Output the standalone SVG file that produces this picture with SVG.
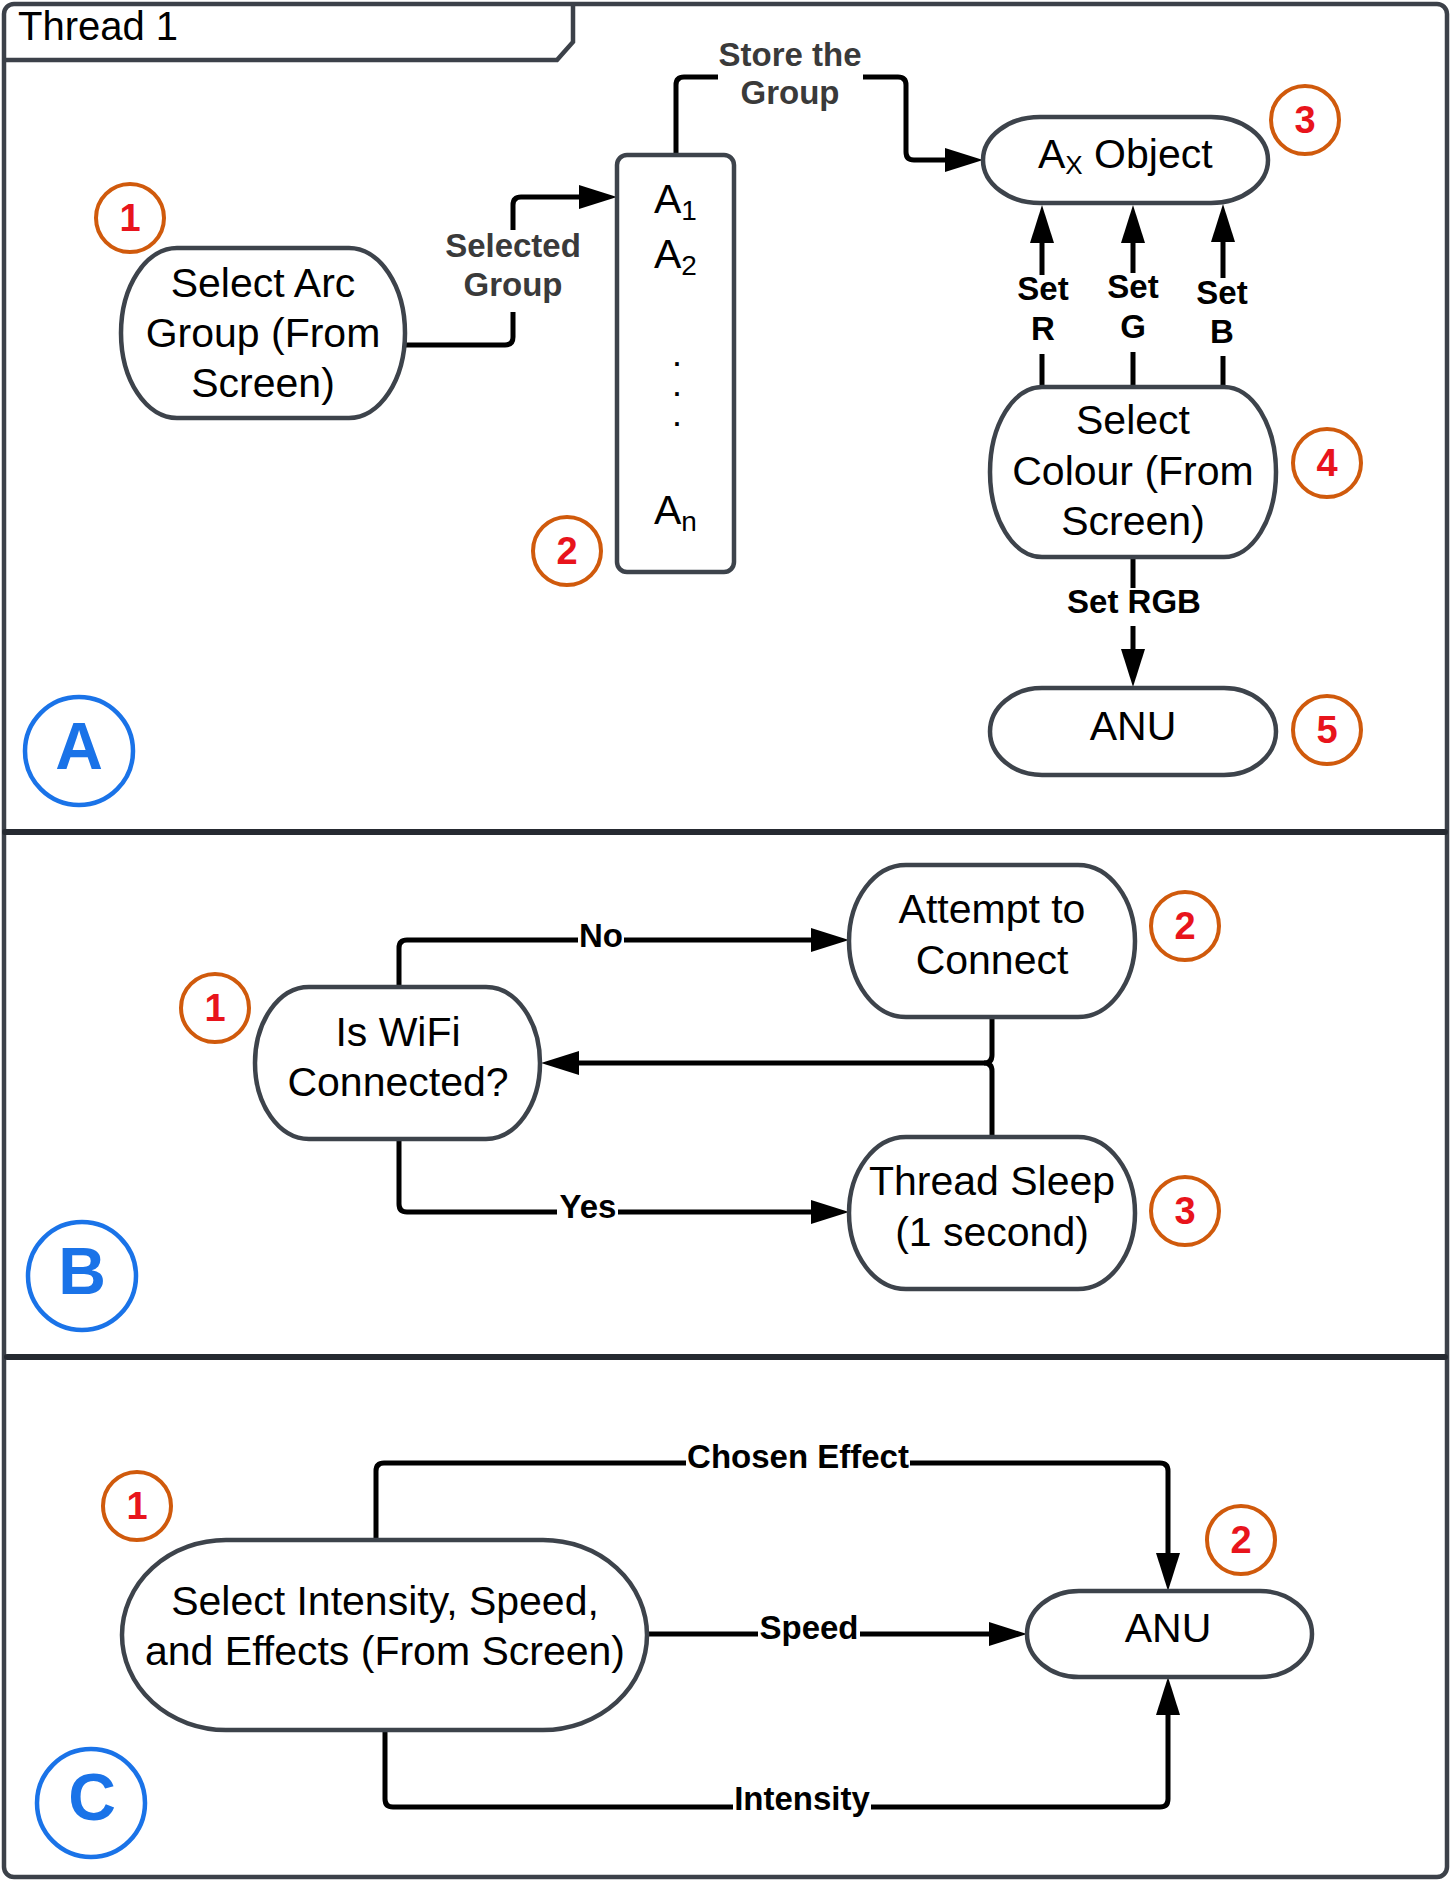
<svg xmlns="http://www.w3.org/2000/svg" width="1451" height="1881" viewBox="0 0 1451 1881">
<style>
text { font-family: "Liberation Sans", Arial, sans-serif; }
.node { fill: #ffffff; stroke: #3d434b; stroke-width: 4.5; }
.nt { font-size: 41px; fill: #000; text-anchor: middle; }
.nts { font-size: 41px; fill: #000; text-anchor: start; }
.dot { font-size: 25px; font-weight: bold; fill: #000; text-anchor: middle; }
.sub { font-size: 28px; }
.lbl { font-size: 33px; font-weight: bold; fill: #000; text-anchor: middle; }
.lblg { fill: #3a3a3a; }
.conn { fill: none; stroke: #000; stroke-width: 5; stroke-linejoin: round; }
.badge circle { fill: none; stroke: #d05a0c; stroke-width: 4; }
.badge text { font-size: 38px; font-weight: bold; fill: #e8141c; text-anchor: middle; }
.sec circle { fill: none; stroke: #1a73e8; stroke-width: 4.5; }
.sec text { font-size: 66px; font-weight: bold; fill: #1a73e8; text-anchor: middle; }
.frame { fill: none; stroke: #3c4149; stroke-width: 4.5; }
.divider { stroke: #262a31; stroke-width: 6; stroke-linecap: round; }
</style>
<defs>
<marker id="arrow" markerUnits="userSpaceOnUse" markerWidth="38" markerHeight="26" viewBox="0 0 38 26" refX="8" refY="13" orient="auto">
<path d="M0,1 L38,13 L0,25 Z" fill="#000"/>
</marker>
</defs>
<rect width="1451" height="1881" fill="#ffffff"/>

<g id="frame">
<rect class="frame" x="4" y="4" width="1443" height="1873" rx="10" ry="10"/>
<path class="frame" d="M4,60 H557 L573,42 V4"/>
<text x="18" y="40" font-size="40" fill="#000">Thread 1</text>
<line class="divider" x1="5" y1="832" x2="1445" y2="832"/>
<line class="divider" x1="7" y1="1357" x2="1445" y2="1357"/>
</g>

<g id="connectors">
<!-- Section A -->
<path class="conn" d="M405,345 H505 Q513,345 513,337 V312"/>
<path class="conn" d="M513,230 V205 Q513,197 521,197 H587" marker-end="url(#arrow)"/>
<text class="lbl lblg" x="513" y="257">Selected</text>
<text class="lbl lblg" x="513" y="296">Group</text>

<path class="conn" d="M676,155 V85 Q676,77 684,77 H718"/>
<path class="conn" d="M863,77 H898 Q906,77 906,85 V152 Q906,160 914,160 H953" marker-end="url(#arrow)"/>
<text class="lbl lblg" x="790" y="66">Store the</text>
<text class="lbl lblg" x="790" y="104">Group</text>

<path class="conn" d="M1042,387 V354"/>
<path class="conn" d="M1042,275 V235" marker-end="url(#arrow)"/>
<text class="lbl" x="1043" y="300">Set</text>
<text class="lbl" x="1043" y="340">R</text>

<path class="conn" d="M1133,387 V352"/>
<path class="conn" d="M1133,273 V235" marker-end="url(#arrow)"/>
<text class="lbl" x="1133" y="298">Set</text>
<text class="lbl" x="1133" y="338">G</text>

<path class="conn" d="M1223,387 V356"/>
<path class="conn" d="M1223,278 V234" marker-end="url(#arrow)"/>
<text class="lbl" x="1222" y="304">Set</text>
<text class="lbl" x="1222" y="343">B</text>

<path class="conn" d="M1133,557 V588"/>
<path class="conn" d="M1133,626 V657" marker-end="url(#arrow)"/>
<text class="lbl" x="1134" y="613">Set RGB</text>

<!-- Section B -->
<path class="conn" d="M399,986 V948 Q399,940 407,940 H578"/>
<path class="conn" d="M624,940 H819" marker-end="url(#arrow)"/>
<text class="lbl" x="601" y="947">No</text>

<path class="conn" d="M399,1140 V1204 Q399,1212 407,1212 H557"/>
<path class="conn" d="M618,1212 H819" marker-end="url(#arrow)"/>
<text class="lbl" x="588" y="1218">Yes</text>

<path class="conn" d="M992,1017 V1055 Q992,1063 984,1063 H571" marker-end="url(#arrow)"/>
<path class="conn" d="M992,1137 V1071 Q992,1063 984,1063"/>

<!-- Section C -->
<path class="conn" d="M376,1540 V1471 Q376,1463 384,1463 H686"/>
<path class="conn" d="M910,1463 H1160 Q1168,1463 1168,1471 V1561" marker-end="url(#arrow)"/>
<text class="lbl" x="798" y="1468">Chosen Effect</text>

<path class="conn" d="M647,1634 H758"/>
<path class="conn" d="M860,1634 H997" marker-end="url(#arrow)"/>
<text class="lbl" x="809" y="1639">Speed</text>

<path class="conn" d="M385,1730 V1799 Q385,1807 393,1807 H733"/>
<path class="conn" d="M871,1807 H1160 Q1168,1807 1168,1799 V1707" marker-end="url(#arrow)"/>
<text class="lbl" x="802" y="1810">Intensity</text>
</g>

<g id="A1-select-arc-group">
<rect class="node" x="121" y="248" width="284" height="170" rx="56" ry="85"/>
<text class="nt" x="263" y="297">Select Arc</text>
<text class="nt" x="263" y="347">Group (From</text>
<text class="nt" x="263" y="397">Screen)</text>
</g>

<g id="A2-arc-list">
<rect class="node" x="617" y="155" width="117" height="417" rx="10" ry="10"/>
<text class="nts" x="654" y="213">A<tspan class="sub" dy="7">1</tspan></text>
<text class="nts" x="654" y="268">A<tspan class="sub" dy="7">2</tspan></text>
<text class="dot" x="677" y="366">.</text>
<text class="dot" x="677" y="396">.</text>
<text class="dot" x="677" y="426">.</text>
<text class="nts" x="654" y="524">A<tspan class="sub" dy="7">n</tspan></text>
</g>

<g id="A3-ax-object">
<rect class="node" x="983" y="117" width="285" height="86" rx="57" ry="43"/>
<text class="nts" x="1038" y="168">A<tspan font-size="26" dy="6">X</tspan><tspan dy="-6"> Object</tspan></text>
</g>

<g id="A4-select-colour">
<rect class="node" x="990" y="387" width="286" height="170" rx="52" ry="85"/>
<text class="nt" x="1133" y="434">Select</text>
<text class="nt" x="1133" y="485">Colour (From</text>
<text class="nt" x="1133" y="535">Screen)</text>
</g>

<g id="A5-anu">
<rect class="node" x="990" y="688" width="286" height="87" rx="52" ry="43.5"/>
<text class="nt" x="1133" y="740">ANU</text>
</g>

<g id="B1-wifi-check">
<rect class="node" x="255" y="987" width="285" height="152" rx="54" ry="76"/>
<text class="nt" x="398" y="1046">Is WiFi</text>
<text class="nt" x="398" y="1096">Connected?</text>
</g>

<g id="B2-attempt-connect">
<rect class="node" x="849" y="865" width="286" height="152" rx="57" ry="76"/>
<text class="nt" x="992" y="923">Attempt to</text>
<text class="nt" x="992" y="974">Connect</text>
</g>

<g id="B3-thread-sleep">
<rect class="node" x="849" y="1137" width="286" height="152" rx="57" ry="76"/>
<text class="nt" x="992" y="1195">Thread Sleep</text>
<text class="nt" x="992" y="1246">(1 second)</text>
</g>

<g id="C1-select-intensity">
<rect class="node" x="122" y="1540" width="525" height="190" rx="104" ry="95"/>
<text class="nt" x="385" y="1615">Select Intensity, Speed,</text>
<text class="nt" x="385" y="1665">and Effects (From Screen)</text>
</g>

<g id="C2-anu">
<rect class="node" x="1027" y="1591" width="285" height="86" rx="52" ry="43"/>
<text class="nt" x="1168" y="1642">ANU</text>
</g>

<g id="badges">
<g class="badge" id="badge-A1"><circle cx="130" cy="218" r="34"/><text x="130" y="231">1</text></g>
<g class="badge" id="badge-A2"><circle cx="567" cy="551" r="34"/><text x="567" y="564">2</text></g>
<g class="badge" id="badge-A3"><circle cx="1305" cy="120" r="34"/><text x="1305" y="133">3</text></g>
<g class="badge" id="badge-A4"><circle cx="1327" cy="463" r="34"/><text x="1327" y="476">4</text></g>
<g class="badge" id="badge-A5"><circle cx="1327" cy="730" r="34"/><text x="1327" y="743">5</text></g>
<g class="badge" id="badge-B1"><circle cx="215" cy="1008" r="34"/><text x="215" y="1021">1</text></g>
<g class="badge" id="badge-B2"><circle cx="1185" cy="926" r="34"/><text x="1185" y="939">2</text></g>
<g class="badge" id="badge-B3"><circle cx="1185" cy="1211" r="34"/><text x="1185" y="1224">3</text></g>
<g class="badge" id="badge-C1"><circle cx="137" cy="1506" r="34"/><text x="137" y="1519">1</text></g>
<g class="badge" id="badge-C2"><circle cx="1241" cy="1540" r="34"/><text x="1241" y="1553">2</text></g>
</g>

<g id="sections">
<g class="sec" id="section-A"><circle cx="79" cy="751" r="54"/><text x="79" y="769">A</text></g>
<g class="sec" id="section-B"><circle cx="82" cy="1276" r="54"/><text x="82" y="1294">B</text></g>
<g class="sec" id="section-C"><circle cx="91" cy="1803" r="54"/><text x="92" y="1820">C</text></g>
</g>
</svg>
